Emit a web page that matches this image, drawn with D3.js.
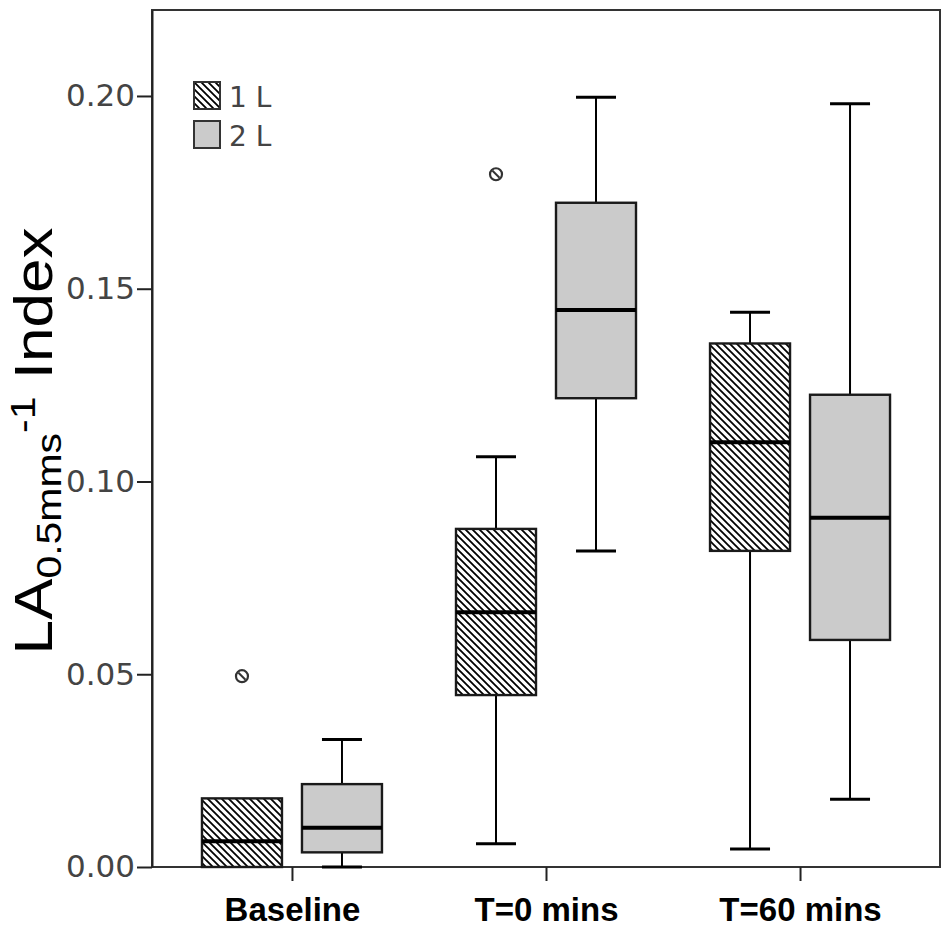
<!DOCTYPE html>
<html>
<head>
<meta charset="utf-8">
<script src="https://cdn.jsdelivr.net/npm/d3@7"></script>
<style>
  html, body { margin: 0; padding: 0; background: #fff; }
  svg { display: block; }
</style>
</head>
<body>
<script>
// ---- data ----
const categories = ["Baseline", "T=0 mins", "T=60 mins"];
const groups = ["1 L", "2 L"];

const low1L    = [0.0000, 0.0060, 0.0047];
const q1_1L    = [0.0000, 0.0446, 0.0820];
const median1L = [0.0067, 0.0661, 0.1102];
const q3_1L    = [0.0178, 0.0877, 0.1358];
const high1L   = [0.0178, 0.1064, 0.1439];
const outliers1L = [[0.0495], [0.1797], []];

const low2L    = [0.0000, 0.0820, 0.0176];
const q1_2L    = [0.0038, 0.1216, 0.0589];
const median2L = [0.0102, 0.1445, 0.0906];
const q3_2L    = [0.0215, 0.1723, 0.1225];
const high2L   = [0.0331, 0.1997, 0.1980];
const outliers2L = [[], [], []];

const yTicks = [0, 0.05, 0.10, 0.15, 0.20];
const yMax = 0.2223;

// ---- build table ----
const boxes = [];
categories.forEach((c, i) => {
  boxes.push({cat: c, grp: "1 L", low: low1L[i], q1: q1_1L[i], med: median1L[i], q3: q3_1L[i], high: high1L[i], out: outliers1L[i]});
  boxes.push({cat: c, grp: "2 L", low: low2L[i], q1: q1_2L[i], med: median2L[i], q3: q3_2L[i], high: high2L[i], out: outliers2L[i]});
});

// ---- layout ----
const W = 943, H = 931;
const pL = 152, pR = 940, pT = 10, pB = 867;
const boxW = 80, capW = 40;

const svg = d3.select("body").append("svg").attr("width", W).attr("height", H);

const defs = svg.append("defs");
const pat = defs.append("pattern").attr("id", "hatch").attr("patternUnits", "userSpaceOnUse")
  .attr("width", 7).attr("height", 7);
pat.append("rect").attr("width", 7).attr("height", 7).attr("fill", "#fff");
pat.append("path").attr("d", "M-1,-1 L8,8 M-1,6 L1,8 M6,-1 L8,1")
  .attr("stroke", "#000").attr("stroke-width", 1.8);

const x = d3.scalePoint().domain(categories).range([pL, pR]).padding(0.551);
const xg = d3.scalePoint().domain(groups).range([-50, 50]);
const y = d3.scaleLinear().domain([0, yMax]).range([pB, pT]);

const fillFor = g => g === "1 L" ? "url(#hatch)" : "#cbcbcb";

// frame
svg.append("rect").attr("x", pL).attr("y", pT).attr("width", pR - pL).attr("height", pB - pT)
  .attr("fill", "none").attr("stroke", "#333").attr("stroke-width", 2);

// axes
const yAxis = svg.append("g").attr("transform", `translate(${pL},0)`)
  .call(d3.axisLeft(y).tickValues(yTicks).tickFormat(d3.format(".2f")).tickSize(15).tickSizeOuter(0).tickPadding(2));
yAxis.select(".domain").attr("stroke", "#222").attr("stroke-width", 2);
yAxis.selectAll(".tick line").attr("stroke", "#222").attr("stroke-width", 2);
yAxis.selectAll(".tick text").attr("fill", "#444").style("font-family", "DejaVu Sans, sans-serif").style("font-size", "31px");

const xAxis = svg.append("g").attr("transform", `translate(0,${pB})`)
  .call(d3.axisBottom(x).tickSize(14).tickSizeOuter(0).tickPadding(17));
xAxis.select(".domain").remove();
xAxis.selectAll(".tick line").attr("stroke", "#222").attr("stroke-width", 2);
xAxis.selectAll(".tick text").attr("fill", "#000").style("font-family", "Liberation Sans, Arial, sans-serif")
  .style("font-size", "33px").style("font-weight", "bold");

// boxes
const bg = svg.append("g").selectAll("g").data(boxes).join("g")
  .attr("transform", d => `translate(${x(d.cat) + xg(d.grp)},0)`);

bg.append("line").attr("x1", 0).attr("x2", 0).attr("y1", d => y(d.high)).attr("y2", d => y(d.q3))
  .attr("stroke", "#000").attr("stroke-width", 2);
bg.append("line").attr("x1", 0).attr("x2", 0).attr("y1", d => y(d.q1)).attr("y2", d => y(d.low))
  .attr("stroke", "#000").attr("stroke-width", 2);
bg.filter(d => d.high > d.q3).append("line").attr("x1", -capW / 2).attr("x2", capW / 2)
  .attr("y1", d => y(d.high)).attr("y2", d => y(d.high)).attr("stroke", "#000").attr("stroke-width", 3);
bg.filter(d => d.low < d.q1).append("line").attr("x1", -capW / 2).attr("x2", capW / 2)
  .attr("y1", d => y(d.low)).attr("y2", d => y(d.low)).attr("stroke", "#000").attr("stroke-width", 3);
bg.append("rect").attr("x", -boxW / 2).attr("width", boxW)
  .attr("y", d => y(d.q3)).attr("height", d => y(d.q1) - y(d.q3))
  .attr("fill", d => fillFor(d.grp)).attr("stroke", "#1a1a1a").attr("stroke-width", 2.4);
bg.append("line").attr("x1", -boxW / 2).attr("x2", boxW / 2)
  .attr("y1", d => y(d.med)).attr("y2", d => y(d.med)).attr("stroke", "#000").attr("stroke-width", 4);

// outliers
const og = bg.selectAll("g.out").data(d => d.out).join("g").attr("class", "out")
  .attr("transform", v => `translate(0,${y(v)})`);
og.append("circle").attr("r", 6).attr("fill", "#fff").attr("stroke", "#333").attr("stroke-width", 2.2);
og.append("line").attr("x1", -3.5).attr("y1", -3.5).attr("x2", 3.5).attr("y2", 3.5).attr("stroke", "#333").attr("stroke-width", 2);

// legend
const lg = svg.append("g").selectAll("g").data(groups).join("g")
  .attr("transform", (d, i) => `translate(194,${82 + i * 39})`);
lg.append("rect").attr("width", 26).attr("height", 27).attr("fill", d => fillFor(d))
  .attr("stroke", "#333").attr("stroke-width", 2);
lg.append("text").attr("x", 35).attr("y", 25).text(d => d)
  .attr("fill", "#444").style("font-family", "DejaVu Sans, sans-serif").style("font-size", "28px");

// y title
const titleG = svg.append("g");
const yt = titleG.append("text").attr("text-anchor", "middle").attr("fill", "#000")
  .style("font-family", "Liberation Sans, Arial, sans-serif").style("font-size", "53px");
yt.append("tspan").text("LA");
yt.append("tspan").attr("dy", 9).style("font-size", "35px").text("0.5mms");
yt.append("tspan").attr("dy", -26).style("font-size", "35px").text("-1");
yt.append("tspan").attr("dy", 17).text(" Index");
const tLen = yt.node().getComputedTextLength();
const sx = 427 / tLen;
titleG.attr("transform", `translate(52,441) rotate(-90) scale(${sx},1)`);
</script>
</body>
</html>
